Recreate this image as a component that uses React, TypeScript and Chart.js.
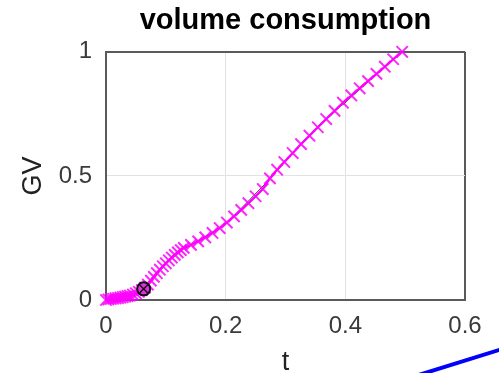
import React, { useEffect, useRef } from "react";
import { Chart, registerables } from "chart.js";

Chart.register(...registerables);

const titleText = "volume consumption";
const xTitle = "t";
const yTitle = "GV";
const xTickLabels = ["0", "0.2", "0.4", "0.6"];
const yTickLabels = ["0", "0.5", "1"];

// magenta series (t, GV)
const tValues = [
  0, 0.004, 0.008, 0.012, 0.016, 0.02, 0.024, 0.028, 0.032, 0.036, 0.04, 0.045,
  0.05, 0.055, 0.06, 0.065, 0.07, 0.075, 0.08, 0.085, 0.09, 0.095, 0.1, 0.105,
  0.11, 0.115, 0.12, 0.125, 0.13, 0.142, 0.154, 0.166, 0.178, 0.19, 0.202,
  0.214, 0.226, 0.238, 0.25, 0.262, 0.274, 0.286, 0.298, 0.312, 0.326, 0.34,
  0.354, 0.368, 0.382, 0.396, 0.41, 0.424, 0.438, 0.452, 0.466, 0.48, 0.495,
];
const gvValues = [
  0, 0.002, 0.004, 0.005, 0.007, 0.008, 0.01, 0.012, 0.014, 0.016, 0.018, 0.022,
  0.027, 0.033, 0.04, 0.05, 0.062, 0.078, 0.093, 0.108, 0.122, 0.136, 0.148,
  0.16, 0.171, 0.182, 0.192, 0.201, 0.21, 0.222, 0.236, 0.252, 0.27, 0.29,
  0.312, 0.337, 0.363, 0.39, 0.418, 0.447, 0.49, 0.525, 0.556, 0.592, 0.628,
  0.662, 0.696, 0.729, 0.762, 0.795, 0.824, 0.853, 0.882, 0.911, 0.94, 0.97, 1.0,
];

// thin dark reference line
const darkT = [0.13, 0.2, 0.27, 0.33, 0.385, 0.392, 0.398, 0.404, 0.45, 0.495];
const darkGV = [0.205, 0.305, 0.478, 0.64, 0.765, 0.782, 0.79, 0.805, 0.905, 1.0];

// marked point
const markT = [0.063];
const markGV = [0.045];

// stray blue stroke
const blueT = [0.5, 0.72];
const blueGV = [-0.319, -0.154];

const pts = (xs: number[], ys: number[]) => xs.map((x, i) => ({ x, y: ys[i] }));

export default function App() {
  const ref = useRef<HTMLCanvasElement | null>(null);
  useEffect(() => {
    if (!ref.current) return;
    const edge = "#5a5a5a";
    const grid = "#e2e2e2";
    const chart = new Chart(ref.current, {
      type: "scatter",
      data: {
        datasets: [
          {
            data: pts(blueT, blueGV),
            showLine: true,
            borderColor: "#0000ff",
            borderWidth: 4,
            pointRadius: 0,
            clip: false,
          } as any,
          {
            data: pts(markT, markGV),
            pointStyle: "crossRot",
            pointRadius: 5.5,
            pointBorderWidth: 1.5,
            borderColor: "#111",
            clip: false,
          } as any,
          {
            data: pts(markT, markGV),
            pointStyle: "circle",
            pointRadius: 6.5,
            pointBorderWidth: 2,
            borderColor: "#111",
            backgroundColor: "rgba(225,50,225,1)",
            clip: false,
          } as any,
          {
            data: pts(tValues, gvValues),
            showLine: true,
            borderColor: "#ff00ff",
            backgroundColor: "#ff00ff",
            borderWidth: 2,
            pointStyle: "crossRot",
            pointRadius: 8,
            pointBorderWidth: 2,
            pointBorderColor: "rgba(255,0,255,0.85)",
            clip: false,
          } as any,
          {
            data: pts(darkT, darkGV),
            showLine: true,
            borderColor: "#444444",
            borderWidth: 1,
            pointRadius: 0,
          },
        ],
      },
      options: {
        animation: false,
        responsive: true,
        maintainAspectRatio: false,
        layout: { padding: { left: 0, right: 34, top: 0, bottom: 0 } },
        plugins: {
          legend: { display: false },
          tooltip: { enabled: false },
          title: {
            display: true,
            text: titleText,
            fullSize: false,
            color: "#000",
            font: { family: "Liberation Sans", size: 29, weight: "bold", lineHeight: 1.2 },
            padding: { top: 4, bottom: 13 },
          },
        },
        scales: {
          x: {
            type: "linear",
            min: 0,
            max: 0.6,
            afterFit: (s: any) => {
              s.height = 73;
            },
            ticks: {
              stepSize: 0.2,
              padding: 12,
              color: "#3a3a3a",
              font: { family: "Liberation Sans", size: 24 },
              callback: (_v: any, i: number) => xTickLabels[i],
              maxRotation: 0,
            },
            grid: {
              drawTicks: false,
              color: (c: any) => (c.tick && Math.abs(c.tick.value - 0.6) < 1e-6 ? edge : grid),
              lineWidth: (c: any) => (c.tick && Math.abs(c.tick.value - 0.6) < 1e-6 ? 2 : 1),
            },
            border: { display: true, color: edge, width: 2 },
            title: {
              display: true,
              text: xTitle,
              color: "#222",
              font: { family: "Liberation Sans", size: 27, lineHeight: 0.8 },
              padding: { top: 0, bottom: 0 },
            },
          },
          y: {
            type: "linear",
            min: 0,
            max: 1,
            afterFit: (s: any) => {
              s.width = 106;
            },
            ticks: {
              stepSize: 0.5,
              padding: 14,
              color: "#3a3a3a",
              font: { family: "Liberation Sans", size: 24 },
              callback: (_v: any, i: number) => yTickLabels[i],
            },
            grid: {
              drawTicks: false,
              color: (c: any) => (c.tick && Math.abs(c.tick.value - 1) < 1e-6 ? edge : grid),
              lineWidth: (c: any) => (c.tick && Math.abs(c.tick.value - 1) < 1e-6 ? 2 : 1),
            },
            border: { display: true, color: edge, width: 2 },
            title: {
              display: true,
              text: yTitle,
              color: "#222",
              font: { family: "Liberation Sans", size: 27, lineHeight: 1 },
              padding: { top: 20, bottom: 0 },
            },
          },
        },
      } as any,
    });
    return () => chart.destroy();
  }, []);
  return (
    <div style={{ position: "fixed", left: 0, top: 0, width: 499, height: 373, background: "#fff" }}>
      <canvas ref={ref} />
    </div>
  );
}
